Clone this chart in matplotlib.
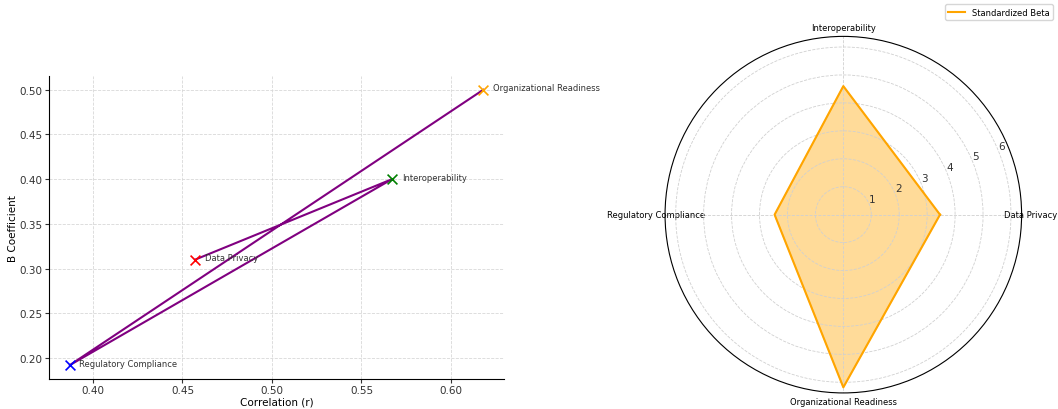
import numpy as np
import matplotlib
matplotlib.use("Agg")
import matplotlib.pyplot as plt

factors = ["Data Privacy", "Interoperability", "Regulatory Compliance", "Organizational Readiness"]
correlation = [0.457, 0.567, 0.387, 0.618]
b_coef = [0.31, 0.40, 0.192, 0.50]
std_beta = [3.46, 4.6, 2.46, 6.18]
point_colors = ["red", "green", "blue", "orange"]

plt.rcParams["font.family"] = "DejaVu Sans"
fig = plt.figure(figsize=(10.58, 4.10), dpi=100)

# Left: scatter + line
ax = fig.add_axes([0.0463, 0.0732, 0.430, 0.739])
ax.plot(correlation, b_coef, color="purple", lw=1.5, zorder=2)
for x, y, c, name in zip(correlation, b_coef, point_colors, factors):
    ax.scatter([x], [y], marker="x", color=c, s=50, lw=1.2, zorder=3)
    ax.annotate(name, (x, y), xytext=(7, 1.5), textcoords="offset points",
                fontsize=6, color="#333333", va="center")
ax.set_xlabel("Correlation (r)", fontsize=7.5, labelpad=1)
ax.set_ylabel("B Coefficient", fontsize=7.5, labelpad=1.5)
ax.tick_params(labelsize=7.5, length=3, pad=1.5, colors="#333333")
ax.set_xticks([0.40, 0.45, 0.50, 0.55, 0.60])
ax.set_yticks([0.20, 0.25, 0.30, 0.35, 0.40, 0.45, 0.50])
ax.grid(True, linestyle="--", color="#d8d8d8", lw=0.6)
ax.set_axisbelow(True)
ax.spines["top"].set_visible(False)
ax.spines["right"].set_visible(False)

# Right: radar
angles = np.linspace(0, 2 * np.pi, len(factors), endpoint=False).tolist()
vals = std_beta + std_beta[:1]
ang = angles + angles[:1]
pax = fig.add_axes([0.6286, 0.0390, 0.3370, 0.870], polar=True)
pax.fill(ang, vals, color="orange", alpha=0.4)
pax.plot(ang, vals, color="orange", lw=1.5, label="Standardized Beta")
pax.set_xticks(angles)
pax.set_xticklabels(factors, fontsize=6)
pax.tick_params(axis="x", pad=-4)
pax.set_ylim(0, 6.38)
pax.set_yticks([1, 2, 3, 4, 5, 6])
pax.set_yticklabels(["1", "2", "3", "4", "5", "6"], fontsize=7.5, color="#333333")
pax.grid(True, linestyle="--", color="#d0d0d0", lw=0.6)
pax.spines["polar"].set_linewidth(0.8)
fig.legend(loc="upper right", bbox_to_anchor=(0.999, 0.997), fontsize=6, frameon=True)

fig.savefig("out.png", dpi=100)
